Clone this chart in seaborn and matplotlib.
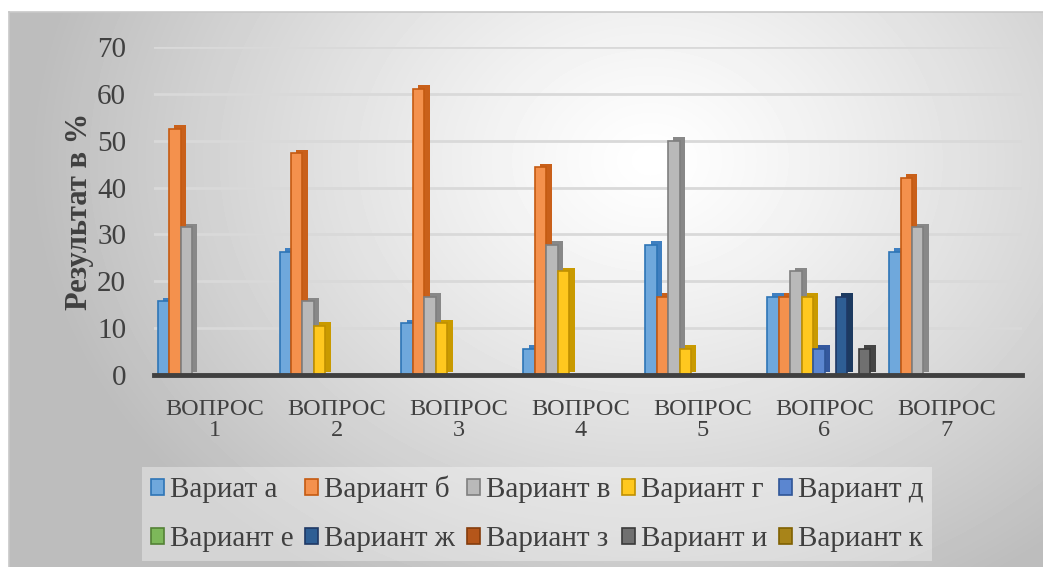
import numpy as np
import pandas as pd
import seaborn as sns
import matplotlib
matplotlib.use("Agg")
import matplotlib.pyplot as plt
from matplotlib import patheffects as pe
from matplotlib.patches import Rectangle, Patch

# ---------------- data ----------------
questions = ["ВОПРОС\n1", "ВОПРОС\n2", "ВОПРОС\n3", "ВОПРОС\n4",
             "ВОПРОС\n5", "ВОПРОС\n6", "ВОПРОС\n7"]
variants = ["Вариат а", "Вариант б", "Вариант в", "Вариант г", "Вариант д",
            "Вариант е", "Вариант ж", "Вариант з", "Вариант и", "Вариант к"]
var_a = [15.8, 26.3, 11.1, 5.6, 27.8, 16.7, 26.3]
var_b = [52.6, 47.4, 61.1, 44.4, 16.7, 16.7, 42.1]
var_v = [31.6, 15.8, 16.7, 27.8, 50.0, 22.2, 31.6]
var_g = [0, 10.5, 11.1, 22.2, 5.6, 16.7, 0]
var_d = [0, 0, 0, 0, 0, 5.6, 0]
var_e = [0, 0, 0, 0, 0, 0, 0]
var_zh = [0, 0, 0, 0, 0, 16.7, 0]
var_z = [0, 0, 0, 0, 0, 0, 0]
var_i = [0, 0, 0, 0, 0, 5.6, 0]
var_k = [0, 0, 0, 0, 0, 0, 0]
series = [var_a, var_b, var_v, var_g, var_d, var_e, var_zh, var_z, var_i, var_k]
y_ticks = [0, 10, 20, 30, 40, 50, 60, 70]
y_label = "Результат в %"

fills = ["#6FA8DC", "#F4914D", "#B9B9B9", "#FFC81F", "#5B86D0",
         "#7DB85A", "#2E5E94", "#B5561A", "#707070", "#A88419"]
edges = ["#2E75B6", "#C55A11", "#7F7F7F", "#C09000", "#2F5597",
         "#538135", "#1F3864", "#843C0C", "#3A3A3A", "#7F6000"]
sides = ["#3F7FC0", "#C9601A", "#888888", "#C99A00", "#34589E",
         "#5A8E3A", "#1C3A60", "#7A370C", "#454545", "#7F6000"]

rows = []
for v, vals in zip(variants, series):
    for q, val in zip(questions, vals):
        rows.append({"question": q, "variant": v, "value": val})
df = pd.DataFrame(rows)

# ---------------- figure ----------------
W, H = 1043, 567
fig = plt.figure(figsize=(W / 100, H / 100), dpi=100)
serif = ["Liberation Serif", "DejaVu Serif"]

# background gradient
bg = fig.add_axes([0, 0, 1, 1], zorder=-10)
yy, xx = np.mgrid[0:H, 0:W]
d = np.hypot((xx - 650) / 1.0, (yy - 160) * 1.25)
g = np.clip(1 - 0.25 * (d / 600) ** 1.2, 0.74, 1)
bg.imshow(g, cmap="gray", vmin=0, vmax=1, extent=[0, W, H, 0], aspect="auto",
          interpolation="bilinear")
bg.add_patch(Rectangle((0, 0), W, 12, color="white", lw=0))
bg.add_patch(Rectangle((0, 0), 9, H, color="white", lw=0))
bg.plot([9, W], [12, 12], color="#c8c8c8", lw=1.2)
bg.plot([9, 9], [12, H], color="#c8c8c8", lw=1.2)
bg.set_xlim(0, W)
bg.set_ylim(H, 0)
bg.axis("off")

# plot axes
left_px, right_px = 154, 1022
y0_px, y70_px = 375, 47
ax = fig.add_axes([left_px / W, 1 - y0_px / H,
                   (right_px - left_px) / W, (y0_px - y70_px) / H])
ax.set_facecolor("none")

sns.barplot(data=df, x="question", y="value", hue="variant",
            hue_order=variants, order=questions, palette=fills,
            width=0.94, dodge=True, ax=ax, legend=False, saturation=1,
            errorbar=None)

for cont, ec, sc in zip(ax.containers, edges, sides):
    for p in cont.patches:
        if p.get_height() <= 0:
            p.set_visible(False)
            continue
        p.set_edgecolor(ec)
        p.set_linewidth(1.2)
        p.set_path_effects([
            pe.withSimplePatchShadow(offset=(3.8, 2.4), shadow_rgbFace=sc,
                                     alpha=1.0, rho=1.0)])

ax.set_ylim(0, 70)
ax.set_xlim(-0.5, 6.62)
ax.set_yticks(y_ticks)
ax.set_yticklabels([str(t) for t in y_ticks], family=serif, fontsize=21,
                   color="#404040")
ax.set_xticks(range(len(questions)))
ax.set_xticklabels(questions, family=serif, fontsize=17.5, color="#404040",
                   linespacing=1.0)
ax.tick_params(axis="y", length=0, pad=20)
ax.tick_params(axis="x", length=0, pad=17)
ax.set_xlabel("")
ax.set_ylabel(y_label, family=serif, fontsize=22, fontweight="bold",
              color="#404040", labelpad=2)

ax.yaxis.grid(True, color="#d9d9d9", lw=2)
ax.xaxis.grid(False)
ax.set_axisbelow(True)
for s in ["left", "right", "top"]:
    ax.spines[s].set_visible(False)
ax.spines["bottom"].set_color("#404040")
ax.spines["bottom"].set_linewidth(3.5)

# legend: rows а..д / е..к  (matplotlib fills column-major)
handles = [Patch(facecolor=f, edgecolor=e, linewidth=1.2) for f, e in zip(fills, edges)]
order = [0, 5, 1, 6, 2, 7, 3, 8, 4, 9]
leg = fig.legend([handles[i] for i in order], [variants[i] for i in order],
                 ncol=5, loc="center", bbox_to_anchor=(537 / W, 1 - 514 / H),
                 prop={"family": serif, "size": 21}, frameon=True,
                 handlelength=0.45, handleheight=0.45, handletextpad=0.2,
                 columnspacing=0.4, labelspacing=0.8, borderpad=0.3,
                 fancybox=False)
leg.get_frame().set_facecolor("white")
leg.get_frame().set_alpha(0.35)
leg.get_frame().set_edgecolor("none")
for t in leg.get_texts():
    t.set_color("#404040")

fig.savefig("out.png", dpi=100)
